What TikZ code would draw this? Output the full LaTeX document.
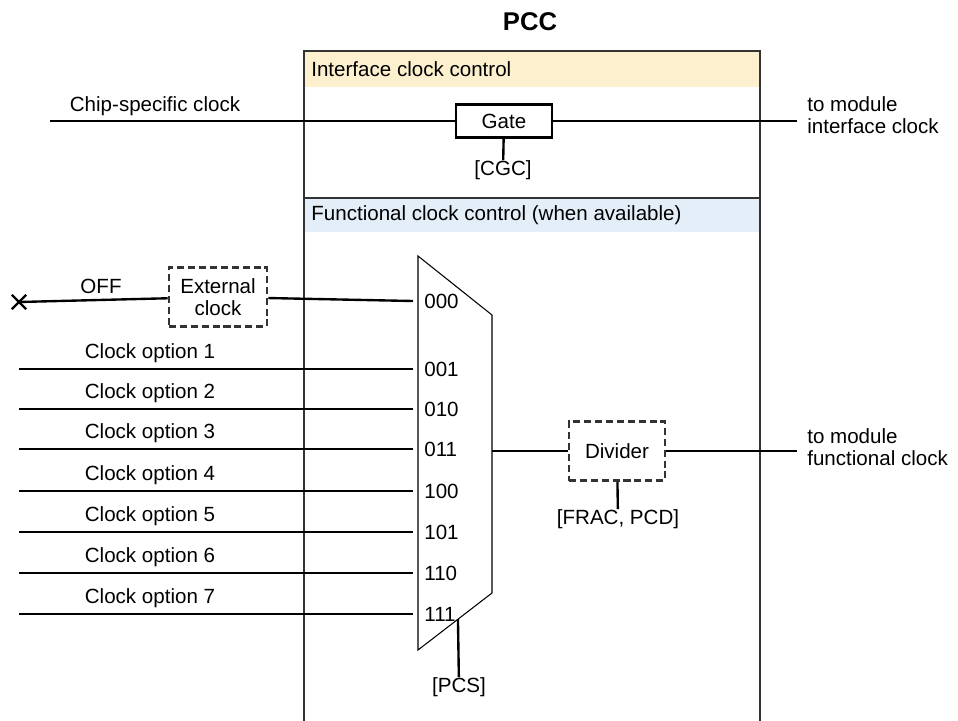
\documentclass[tikz,border=0pt]{standalone}
\usepackage{fontspec}
\setmainfont{Liberation Sans}
\usetikzlibrary{shapes.misc, positioning, calc}
\definecolor{ifbg}{HTML}{FDF0CF}
\definecolor{fnbg}{HTML}{E4EEF8}
\definecolor{frame}{HTML}{333333}
\newcommand\lblfont{\fontsize{11.7}{12.6}\selectfont}
\tikzset{
    wire/.style={line width=1.35pt, draw=black},
    frameline/.style={line width=1pt, draw=frame},
    muxline/.style={line width=0.6pt, draw=black},
    lbl/.style={font=\lblfont, inner sep=0pt, align=center},
    gatebox/.style={rectangle, draw, line width=1.3pt, minimum width=1.92cm,
                    minimum height=0.66cm, font=\lblfont, inner sep=0pt},
    dashbox/.style={rectangle, draw=frame, line width=1.45pt, dash pattern=on 4pt off 2.2pt,
                    minimum width=1.96cm, minimum height=1.18cm, font=\lblfont,
                    align=center, inner sep=0pt},
    offmark/.style={cross out, draw, line width=1.3pt, minimum size=0.24cm, inner sep=0pt},
}

\begin{document}
\begin{tikzpicture}[x=0.02cm, y=-0.02cm]
  \useasboundingbox (0,0) rectangle (958,721);

  % PCC frame and section headers
  \fill[ifbg] (305,52) rectangle (759,87);
  \fill[fnbg] (305,199) rectangle (759,232);
  \draw[frameline] (304,721) -- (304,51) -- (760,51) -- (760,721);
  \draw[frameline, line width=1.3pt] (304,198) -- (760,198);
  \node[lbl, font=\fontsize{14.6}{16}\selectfont\bfseries] (title) at (530,22) {PCC};
  \node[lbl, anchor=west] (iftitle) at (311,69) {Interface clock control};
  \node[lbl, anchor=west] (fntitle) at (311,215) {Functional clock control (when available)};

  % interface clock
  \node[gatebox] (gate) at (504,121) {Gate};
  \coordinate (chipin) at (50,121);
  \coordinate (ifout) at (797,121);
  \draw[wire] (chipin) -- (gate);
  \draw[wire] (gate) -- (ifout);
  \node[lbl] (chiplbl) at (155,106) {Chip-specific clock};
  \node[lbl, anchor=west, align=left] (iflbl) at (807,115) {to module\\interface clock};
  \node[lbl] (cgc) at (503,170) {[CGC]};
  \draw[wire] (gate) -- (cgc);

  % clock mux
  \coordinate (mux-tl) at (418,256);
  \coordinate (mux-tr) at (492,315);
  \coordinate (mux-br) at (492,593);
  \coordinate (mux-bl) at (418,650);
  \draw[muxline] (mux-tl) -- (mux-tr) -- (mux-br) -- (mux-bl) -- cycle;
  \coordinate (mux-out) at (492,451);
  \coordinate (pcs-top) at ($(mux-br)!0.46!(mux-bl)$);
  \node[lbl] (pcs) at (459,687) {[PCS]};
  \draw[wire] (pcs-top) -- (pcs);

  % OFF / external clock
  \node[offmark] (offend) at (19,302) {};
  \node[dashbox] (extclk) at (218,297) {External\\clock};
  \coordinate (mux000) at (413,301);
  \draw[wire] (offend.center) -- (extclk);
  \draw[wire] (extclk) -- (mux000);
  \node[lbl] (offlbl) at (101,286) {OFF};
  \node[lbl, anchor=west] (bits000) at (424,301) {000};

  \foreach \k/\yy/\bits in {1/369/001, 2/409/010, 3/449/011, 4/491/100,
                            5/532/101, 6/573/110, 7/614/111} {
    \coordinate (opt\k) at (19,\yy);
    \coordinate (mux\bits) at (413,\yy);
    \draw[wire] (opt\k) -- (mux\bits);
    \node[lbl] (optlbl\k) at (150,\yy-16) {Clock option \k};
    \node[lbl, anchor=west] (bits\bits) at (424,\yy) {\bits};
  }

  % divider
  \node[dashbox, minimum width=1.92cm] (divider) at (617,451) {Divider};
  \coordinate (fnout) at (797,451);
  \draw[wire] (mux-out) -- (divider);
  \draw[wire] (divider) -- (fnout);
  \node[lbl, anchor=west, align=left] (fnlbl) at (807,447) {to module\\functional clock};
  \node[lbl] (frac) at (618,519) {[FRAC, PCD]};
  \draw[wire] (divider) -- (frac);
\end{tikzpicture}
\end{document}
